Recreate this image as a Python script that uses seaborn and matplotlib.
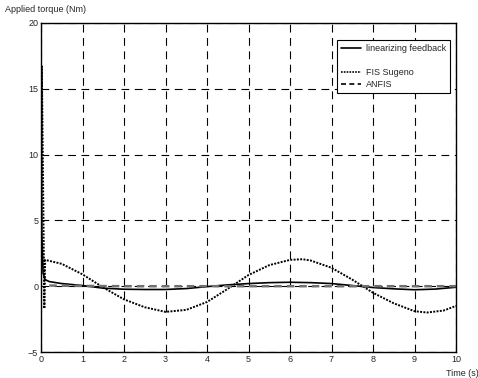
import numpy as np
import seaborn as sns
import matplotlib.pyplot as plt

# linearizing feedback (solid)
t_lin = [0, 0.02, 0.05, 0.1, 0.2, 0.5, 1, 1.5, 2, 2.5, 3, 3.5, 4, 4.5, 5, 5.5,
         6, 6.5, 7, 7.5, 8, 8.5, 9, 9.5, 10]
tq_lin = [12, 4, 1.0, 0.5, 0.35, 0.2, 0.05, -0.15, -0.23, -0.25, -0.25, -0.18,
          -0.03, 0.1, 0.2, 0.27, 0.3, 0.27, 0.2, 0.05, -0.1, -0.2, -0.27, -0.22, -0.08]

# FIS Sugeno (dotted)
t_fis = [0, 0.02, 0.05, 0.08, 0.1, 0.5, 1, 1.5, 2, 2.5, 3, 3.5, 4, 4.5, 5, 5.5,
         6, 6.3, 6.5, 7, 7.5, 8, 8.5, 9, 9.3, 9.7, 10]
tq_fis = [0, 16.7, 8, -1.7, 2.0, 1.7, 0.9, -0.1, -1.0, -1.6, -1.95, -1.8, -1.2,
          -0.2, 0.85, 1.6, 2.0, 2.05, 1.95, 1.4, 0.5, -0.5, -1.3, -1.9, -2.0, -1.85, -1.5]

# ANFIS (dashed)
t_anfis = [0.2, 1, 2, 3, 4, 5, 6, 7, 8, 9, 10]
tq_anfis = [0.05, 0.02, 0.0, 0.0, 0.0, 0.0, 0.0, 0.0, 0.0, 0.0, 0.0]

sns.set_style("white")
plt.rcParams['font.family'] = ['Liberation Sans', 'DejaVu Sans']

fig = plt.figure(figsize=(4.78, 3.78), dpi=100)
ax = fig.add_axes([41 / 478, 26 / 378, 415 / 478, 329 / 378])

sns.lineplot(x=t_lin, y=tq_lin, ax=ax, color="black", lw=1.2, label="linearizing feedback")
ax.plot([], [], color="none", label=" ")
sns.lineplot(x=t_fis, y=tq_fis, ax=ax, color="black", lw=1.4, ls=(0, (1, 0.7)), label="FIS Sugeno")
sns.lineplot(x=t_anfis, y=tq_anfis, ax=ax, color="#707070", lw=1.8, ls=(0, (3, 2)), label="ANFIS")

ax.set_xlim(0, 10)
ax.set_ylim(-5, 20)
ax.set_xticks(range(0, 11))
ax.set_yticks([-5, 0, 5, 10, 15, 20])
ax.grid(True, color="black", ls=(0, (7, 5)), lw=0.8)
ax.tick_params(direction="in", labelsize=6.5, length=3, pad=2)
for s in ax.spines.values():
    s.set_color("black")
    s.set_linewidth(1)

fig.text(5 / 478, 1 - 10 / 378, "Applied torque (Nm)", fontsize=6.5, va="center", ha="left")
fig.text(446 / 478, 1 - 373 / 378, "Time (s)", fontsize=6.5, va="center", ha="left")

leg = ax.legend(loc="upper right", bbox_to_anchor=(0.997, 0.963), fontsize=6.5, frameon=True,
                fancybox=False, edgecolor="black", framealpha=1, handlelength=2.2,
                labelspacing=0.35, borderpad=0.45, handletextpad=0.6)
leg.get_frame().set_linewidth(0.8)
for h, t in zip(leg.get_lines(), leg.get_texts()):
    if t.get_text().strip():
        h.set_color("black")
        h.set_linewidth(1.2)

fig.savefig("out.png", dpi=100)
